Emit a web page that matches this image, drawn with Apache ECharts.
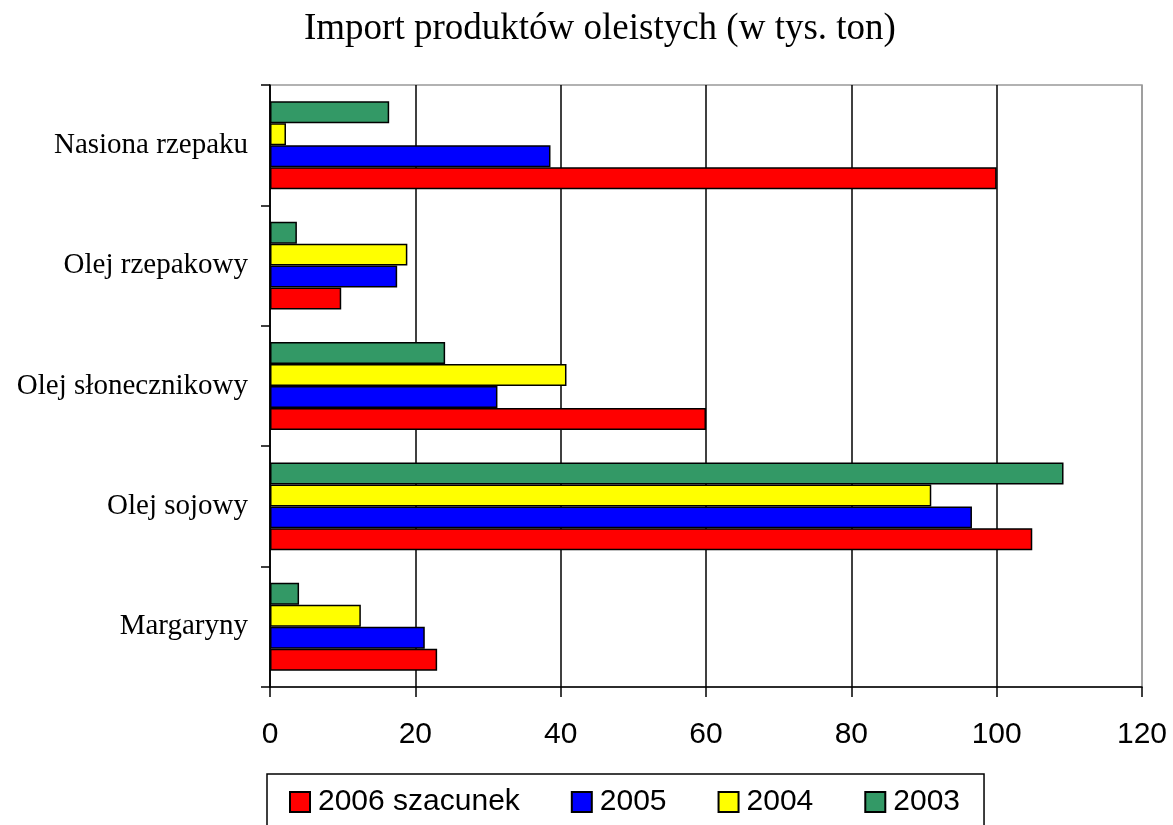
<!DOCTYPE html>
<html>
<head>
<meta charset="utf-8">
<title>Import produktów oleistych</title>
<script src="https://cdn.jsdelivr.net/npm/echarts@6/dist/echarts.min.js"></script>
<style>
  html, body { margin: 0; padding: 0; background: #fff; }
  #chart { width: 1173px; height: 825px; }
</style>
</head>
<body>
<div id="chart"></div>
<script>
// categories listed bottom -> top (category axis starts at the bottom)
const categories = ['Margaryny', 'Olej sojowy', 'Olej słonecznikowy', 'Olej rzepakowy', 'Nasiona rzepaku']

const data2003 = [4.0, 109.2, 24.1, 3.7, 16.4]
const data2004 = [12.5, 91.0, 40.8, 18.9, 2.2]
const data2005 = [21.3, 96.6, 31.3, 17.5, 38.6]
const data2006 = [23.0, 104.9, 60.0, 9.8, 100]

const xTicks = { min: 0, max: 120, interval: 20 }
const legendOrder = ['2006 szacunek', '2005', '2004', '2003']

const serif = 'Liberation Serif'
const sans = 'Liberation Sans'

const chart = echarts.init(document.getElementById('chart'))

function barSeries(name, values, color) {
  return {
    name: name,
    type: 'bar',
    data: values,
    barGap: '0%',
    barCategoryGap: '27%',
    itemStyle: { color: color, borderColor: '#000', borderWidth: 1.5 },
    animation: false
  }
}

chart.setOption({
  backgroundColor: '#fff',
  animation: false,
  graphic: [
    {
      type: 'text',
      left: 304,
      top: 11,
      style: {
        text: 'Import produktów oleistych (w tys. ton)',
        font: '37px "Liberation Serif"',
        fill: '#000'
      }
    }
  ],
  grid: {
    left: 270,
    top: 85,
    right: 31,
    bottom: 138,
    show: true,
    borderColor: '#999',
    borderWidth: 1.5,
    containLabel: false
  },
  legend: {
    data: legendOrder,
    left: 267,
    top: 774,
    orient: 'horizontal',
    icon: 'rect',
    itemWidth: 20,
    itemHeight: 20,
    itemGap: 51,
    padding: [13, 24, 40, 22],
    borderColor: '#000',
    borderWidth: 1.5,
    textStyle: { fontFamily: sans, fontSize: 30, color: '#000', padding: [0, 0, 0, 3] }
  },
  xAxis: {
    type: 'value',
    min: xTicks.min,
    max: xTicks.max,
    interval: xTicks.interval,
    axisLine: { show: true, lineStyle: { color: '#000', width: 1.5 } },
    axisTick: { show: true, length: 10, lineStyle: { color: '#000', width: 1.5 } },
    axisLabel: { fontFamily: sans, fontSize: 30, color: '#000', margin: 33 },
    splitLine: {
      show: true,
      lineStyle: { color: ['#000', '#000', '#000', '#000', '#000', '#000', '#999'], width: 1.5 }
    }
  },
  yAxis: {
    type: 'category',
    data: categories,
    axisLine: { show: true, lineStyle: { color: '#000', width: 1.5 } },
    axisTick: { show: true, length: 9, lineStyle: { color: '#000', width: 1.5 } },
    axisLabel: { fontFamily: serif, fontSize: 29, color: '#000', margin: 22 },
    splitLine: { show: false }
  },
  series: [
    barSeries('2003', data2003, '#339966'),
    barSeries('2004', data2004, '#ffff00'),
    barSeries('2005', data2005, '#0000ff'),
    barSeries('2006 szacunek', data2006, '#ff0000')
  ]
})
</script>
</body>
</html>
